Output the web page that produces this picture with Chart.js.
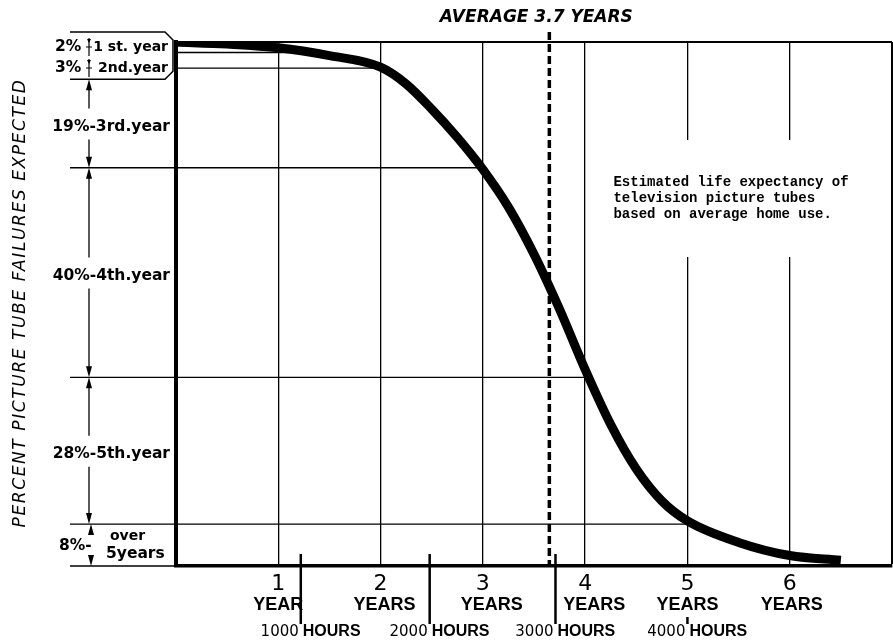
<!DOCTYPE html>
<html>
<head>
<meta charset="utf-8">
<script src="https://cdn.jsdelivr.net/npm/chart.js@4.4.0/dist/chart.umd.min.js"></script>
<style>
    html, body { margin: 0; padding: 0; background: #fff; }
    #wrap { width: 893px; height: 641px; position: relative; }
</style>
</head>
<body>
<div id="wrap"><canvas id="tubes"></canvas></div>
<script>
// Curve: cumulative percent of picture tubes failed after N years of use
const years = [0, 0.5, 1, 1.5, 2, 2.25, 2.5, 2.75, 3, 3.25, 3.5, 3.75, 4, 4.25, 4.5, 4.75, 5, 5.5, 6, 6.5];
const failedPct = [0, 0.4, 1.1, 2.6, 4.8, 8.0, 12.8, 18.2, 24.3, 31.5, 40.5, 51.0, 62.5, 73.0, 81.5, 87.6, 91.4, 95.5, 98.0, 98.9];

// Share of all failures falling in each year of life
const yearShares = [2, 3, 19, 40, 28, 8];
const shareLabels = ['1 st. year', '2nd.year', '3rd.year', '4th.year', '5th.year', 'over|5years'];

// Bottom axis
const yearTicks = [1, 2, 3, 4, 5, 6];
const yearTickLabels = ['YEAR', 'YEARS', 'YEARS', 'YEARS', 'YEARS', 'YEARS'];
const hourTicks = [1.22, 2.48, 3.71, 5.0];
const hourTickLabels = ['1000', '2000', '3000', '4000'];

const averageYears = 3.65;
const averageLabel = 'AVERAGE 3.7 YEARS';
const yTitle = 'PERCENT PICTURE TUBE FAILURES EXPECTED';
const noteLines = ['Estimated life expectancy of', 'television picture tubes', 'based on average home use.'];

// cumulative boundaries 2, 5, 24, 64, 92, 100
const bounds = [];
yearShares.reduce((acc, s) => { bounds.push(acc + s); return acc + s; }, 0);

// where the curve reaches a given failure level (linear between points)
const crossingYear = (level) => {
    for (let i = 0; i < years.length - 1; i++) {
        const a = failedPct[i], b = failedPct[i + 1];
        if (level >= a && level <= b) {
            return years[i] + (level - a) / (b - a) * (years[i + 1] - years[i]);
        }
    }
    return null;
};

const arrow = (ctx, x, from, to) => {
    const dir = Math.sign(to - from);
    ctx.beginPath();
    ctx.moveTo(x, from);
    ctx.lineTo(x, to - dir * 8);
    ctx.stroke();
    ctx.beginPath();
    ctx.moveTo(x, to);
    ctx.lineTo(x - 3, to - dir * 11);
    ctx.lineTo(x + 3, to - dir * 11);
    ctx.closePath();
    ctx.fill();
};

const tubePlugin = {
    id: 'tubePlugin',
    beforeDatasetsDraw(chart) {
        const {ctx, chartArea: area, scales: {x, y}} = chart;
        ctx.save();
        ctx.strokeStyle = '#000';

        // top border
        ctx.lineWidth = 2;
        ctx.beginPath();
        ctx.moveTo(area.left, area.top);
        ctx.lineTo(area.right, area.top);
        ctx.stroke();

        // level lines run from the left edge to the curve
        ctx.lineWidth = 1.3;
        bounds.slice(0, -1).forEach(level => {
            const cx = crossingYear(level);
            const py = y.getPixelForValue(level);
            ctx.beginPath();
            ctx.moveTo(area.left, py);
            ctx.lineTo(x.getPixelForValue(cx), py);
            ctx.stroke();
        });

        // gap in the 5 and 6 year lines for the note
        ctx.fillStyle = '#fff';
        ctx.fillRect(x.getPixelForValue(5) - 4, 140, x.getPixelForValue(6) - x.getPixelForValue(5) + 8, 117);
        ctx.restore();
    },
    afterDraw(chart) {
        const {ctx, chartArea: area, scales: {x, y}} = chart;
        ctx.save();
        ctx.fillStyle = '#000';
        ctx.strokeStyle = '#000';
        ctx.textBaseline = 'middle';

        // average line
        const avgX = x.getPixelForValue(averageYears);
        ctx.lineWidth = 3.5;
        ctx.setLineDash([8, 4]);
        ctx.beginPath();
        ctx.moveTo(avgX, 32);
        ctx.lineTo(avgX, area.bottom - 2);
        ctx.stroke();
        ctx.setLineDash([]);

        ctx.font = 'italic bold 17px "DejaVu Sans"';
        ctx.textAlign = 'center';
        ctx.fillText(averageLabel, avgX - 13, 18);

        // note text
        ctx.font = 'bold 14px "Liberation Mono"';
        ctx.textAlign = 'left';
        noteLines.forEach((line, i) => {
            ctx.fillText(line, x.getPixelForValue(5) - 74, 182 + i * 16);
        });

        // y title
        ctx.save();
        ctx.translate(21, 303);
        ctx.rotate(-Math.PI / 2);
        ctx.font = 'italic 17px "DejaVu Sans"';
        ctx.letterSpacing = '1.6px';
        ctx.textAlign = 'center';
        ctx.fillText(yTitle, 0, 0);
        ctx.restore();

        // left extension lines
        ctx.lineWidth = 1.3;
        bounds.slice(2).forEach(level => {
            const py = y.getPixelForValue(level);
            ctx.beginPath();
            ctx.moveTo(70, py);
            ctx.lineTo(area.left, py);
            ctx.stroke();
        });

        // top box with first two years
        const boxTop = area.top - 10;
        const boxBottom = y.getPixelForValue(bounds[1]) + 11;
        ctx.lineWidth = 1.5;
        ctx.beginPath();
        ctx.moveTo(70, boxTop);
        ctx.lineTo(165, boxTop);
        ctx.lineTo(173, boxTop + 8);
        ctx.lineTo(173, boxBottom - 8);
        ctx.lineTo(165, boxBottom);
        ctx.lineTo(70, boxBottom);
        ctx.stroke();

        const labelFont = 'bold 15.5px "DejaVu Sans"';
        [0, 1].forEach(i => {
            const cy = boxTop + 15 + i * 21;
            ctx.font = labelFont;
            ctx.textAlign = 'left';
            ctx.fillText(yearShares[i] + '%', 55, cy);
            ctx.font = 'bold 14px "DejaVu Sans"';
            ctx.textAlign = 'right';
            ctx.fillText(shareLabels[i], 168, cy);
            // small dimension mark
            ctx.lineWidth = 1.2;
            ctx.beginPath();
            ctx.moveTo(89, cy - 9);
            ctx.lineTo(89, cy + 9);
            ctx.moveTo(86, cy);
            ctx.lineTo(92, cy);
            ctx.stroke();
            ctx.beginPath();
            ctx.moveTo(89, cy - 4);
            ctx.lineTo(87, cy - 8);
            ctx.lineTo(91, cy - 8);
            ctx.closePath();
            ctx.fill();
        });

        // bands for 3rd, 4th, 5th year
        ctx.font = labelFont;
        ctx.lineWidth = 1.3;
        [2, 3, 4].forEach(i => {
            const top = i === 2 ? boxBottom : y.getPixelForValue(bounds[i - 1]);
            const bottom = y.getPixelForValue(bounds[i]);
            const cy = (top + bottom) / 2 + 3;
            ctx.textAlign = 'right';
            ctx.fillText(yearShares[i] + '%-' + shareLabels[i], 170, cy);
            arrow(ctx, 89, cy - 18, top);
            arrow(ctx, 89, cy + 13, bottom);
        });

        // last band: over 5 years
        const lastTop = y.getPixelForValue(bounds[4]);
        const lastBottom = y.getPixelForValue(bounds[5]);
        const lastMid = (lastTop + lastBottom) / 2;
        const [overWord, restWord] = shareLabels[5].split('|');
        ctx.textAlign = 'left';
        ctx.fillText(yearShares[5] + '%-', 59, lastMid + 1);
        ctx.font = 'bold 14px "DejaVu Sans"';
        ctx.fillText(overWord, 110, lastMid - 9);
        ctx.font = labelFont;
        ctx.fillText(restWord, 106, lastMid + 9);
        arrow(ctx, 91, lastTop + 11, lastTop);
        arrow(ctx, 91, lastBottom - 10, lastBottom);

        // bottom axis labels
        const shift = {2: 4, 3: 9, 4: 9, 6: 2};
        yearTicks.forEach((v, i) => {
            const px = x.getPixelForValue(v);
            ctx.textAlign = 'center';
            ctx.font = '22px "DejaVu Sans"';
            ctx.fillText(String(v), px, 584);
            ctx.font = 'bold 18px "Liberation Sans"';
            ctx.fillText(yearTickLabels[i], px + (shift[v] || 0), 605);
        });

        hourTicks.forEach((v, i) => {
            const px = x.getPixelForValue(v);
            const onYear = Math.abs(v - Math.round(v)) < 0.05;
            ctx.lineWidth = 2.5;
            ctx.beginPath();
            ctx.moveTo(px, onYear ? 617 : area.bottom - 12);
            ctx.lineTo(px, 624);
            ctx.stroke();
            ctx.font = '15px "DejaVu Sans"';
            ctx.textAlign = 'right';
            ctx.fillText(hourTickLabels[i], px - 2, 632);
            ctx.font = 'bold 16px "Liberation Sans"';
            ctx.textAlign = 'left';
            ctx.fillText('HOURS', px + 2, 632);
        });

        ctx.restore();
    }
};

new Chart(document.getElementById('tubes'), {
    type: 'line',
    data: {
        datasets: [{
            data: years.map((yr, i) => ({x: yr, y: failedPct[i]})),
            borderColor: '#000',
            borderWidth: 9,
            borderCapStyle: 'butt',
            pointRadius: 0,
            cubicInterpolationMode: 'monotone',
            fill: false
        }]
    },
    options: {
        responsive: true,
        maintainAspectRatio: false,
        animation: false,
        layout: {padding: {top: 42, right: 1, left: 0, bottom: 0}},
        plugins: {
            legend: {display: false},
            tooltip: {enabled: false}
        },
        scales: {
            x: {
                type: 'linear',
                min: 0,
                max: 7,
                ticks: {display: false, stepSize: 1},
                grid: {
                    color: '#000',
                    lineWidth: c => c.tick && c.tick.value === 7 ? 2 : 1.3,
                    drawTicks: false
                },
                border: {color: '#000', width: 3.5},
                afterFit: s => { s.height = 75; }
            },
            y: {
                type: 'linear',
                reverse: true,
                min: 0,
                max: 100,
                ticks: {display: false},
                grid: {display: false},
                border: {color: '#000', width: 4},
                afterFit: s => { s.width = 176; }
            }
        }
    },
    plugins: [tubePlugin]
});
</script>
</body>
</html>
